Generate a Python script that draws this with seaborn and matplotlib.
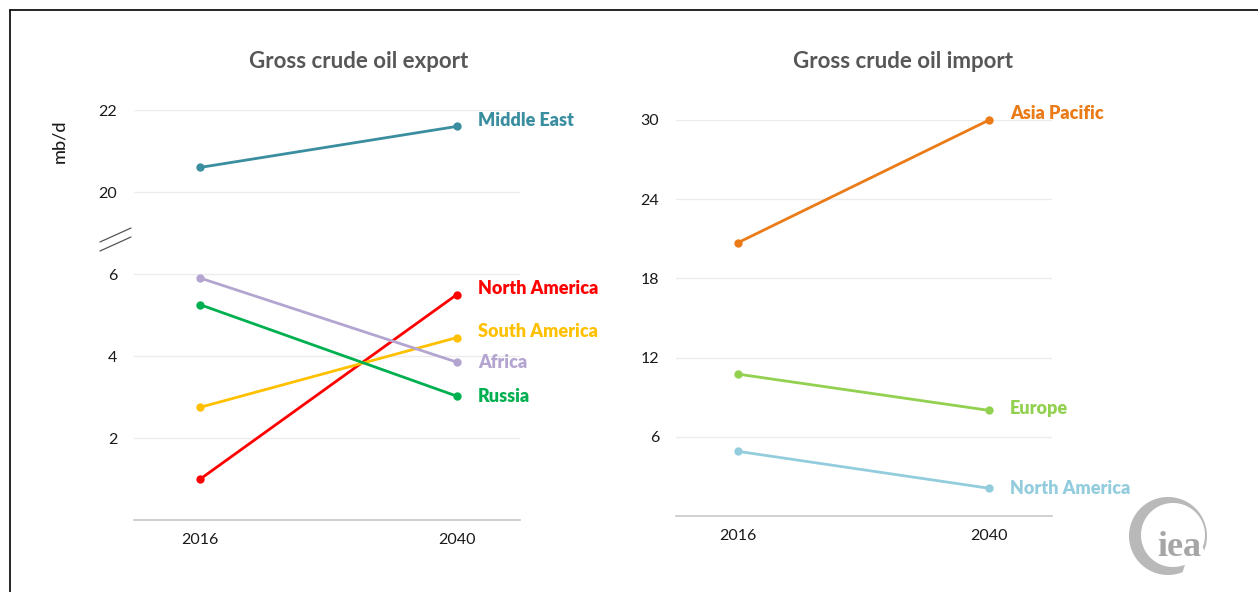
import numpy as np
import pandas as pd
import matplotlib
matplotlib.use("Agg")
import matplotlib.pyplot as plt
from matplotlib.patches import Polygon
from matplotlib.lines import Line2D
import seaborn as sns

# ---- data -----------------------------------------------------------------
years = [2016, 2040]

export_regions = ["Middle East", "North America", "South America", "Africa", "Russia"]
export_2016 = [20.6, 1.0, 2.75, 5.9, 5.25]
export_2040 = [21.6, 5.5, 4.45, 3.85, 3.02]

import_regions = ["Asia Pacific", "Europe", "North America"]
import_2016 = [20.7, 10.75, 4.9]
import_2040 = [30.0, 8.0, 2.1]

export_ticks = [2, 4, 6, 20, 22]
import_ticks = [6, 12, 18, 24, 30]

titles = ["Gross crude oil export", "Gross crude oil import"]
unit_label = "mb/d"
logo_text = "iea"

# ---- styles ---------------------------------------------------------------
export_colors = {"Middle East": "#3a8e9f", "North America": "#ff0000",
                 "South America": "#ffc000", "Africa": "#b4a5d0",
                 "Russia": "#00b050"}
import_colors = {"Asia Pacific": "#ea7b16", "Europe": "#92d050",
                 "North America": "#93cddd"}
export_label_dy = {"Middle East": 6, "North America": 6, "South America": 6,
                   "Africa": 0, "Russia": 0}
import_label_dy = {"Asia Pacific": 6, "Europe": 2, "North America": 0}

sns.set_style("white")
plt.rcParams["font.family"] = ["Lato", "DejaVu Sans"]

W, H = 1258, 592
fig = plt.figure(figsize=(W / 100, H / 100), dpi=100)


def frac(x0, y_top, x1, y_bot):
    return [x0 / W, 1 - y_bot / H, (x1 - x0) / W, (y_bot - y_top) / H]


ax1 = fig.add_axes(frac(134, 110, 520, 520))
ax2 = fig.add_axes(frac(676, 120, 1052, 516))


# broken value axis: 6..20 squeezed into two units
def fwd(v):
    v = np.asarray(v, dtype=float)
    return np.where(v <= 6, v, np.where(v >= 20, v - 12, 6 + (v - 6) * 2 / 14))


def inv(u):
    u = np.asarray(u, dtype=float)
    return np.where(u <= 6, u, np.where(u >= 8, u + 12, 6 + (u - 6) * 7))


def long_form(regions, v0, v1):
    rows = []
    for r, a, b in zip(regions, v0, v1):
        rows.append({"region": r, "year": years[0], "value": a})
        rows.append({"region": r, "year": years[1], "value": b})
    return pd.DataFrame(rows)


df_exp = long_form(export_regions, export_2016, export_2040)
df_imp = long_form(import_regions, import_2016, import_2040)

ax1.set_yscale("function", functions=(fwd, inv))

for ax, df, pal, dys in [(ax1, df_exp, export_colors, export_label_dy),
                         (ax2, df_imp, import_colors, import_label_dy)]:
    sns.lineplot(data=df, x="year", y="value", hue="region", palette=pal,
                 marker="o", markersize=6, markeredgewidth=0, linewidth=2,
                 legend=False, ax=ax, zorder=3)
    for ln in ax.lines:
        ln.set_clip_on(False)
    last = df[df["year"] == years[1]]
    for _, row in last.iterrows():
        ax.annotate(row["region"], (row["year"], row["value"]),
                    xytext=(21, dys[row["region"]]), textcoords="offset pixels",
                    ha="left", va="center", fontsize=13, fontweight="heavy",
                    color=pal[row["region"]], annotation_clip=False)
    ax.set_xticks(years)
    ax.set_xticklabels([str(y) for y in years])
    ax.set_xlabel("")
    ax.set_ylabel("")
    for s in ["left", "right", "top"]:
        ax.spines[s].set_visible(False)
    ax.spines["bottom"].set_color("#c8c8c8")
    ax.spines["bottom"].set_linewidth(1.2)
    ax.yaxis.grid(True, color="#ececec", linewidth=1)
    ax.xaxis.grid(False)
    ax.tick_params(axis="both", length=0, labelsize=11.5, colors="#1a1a1a")
    ax.tick_params(axis="y", pad=12)
    ax.tick_params(axis="x", pad=9)
    ax.set_axisbelow(True)

ax1.set_xlim(2009.8, 2045.9)
ax1.set_ylim(0, 22)
ax1.set_yticks(export_ticks)
ax1.set_yticklabels([str(t) for t in export_ticks])
ax1.yaxis.set_minor_locator(matplotlib.ticker.NullLocator())

ax2.set_xlim(2010.1, 2046.0)
ax2.set_ylim(0, 30)
ax2.set_yticks(import_ticks)
ax2.set_yticklabels([str(t) for t in import_ticks])

# panel titles
for txt, xc in zip(titles, (359, 903)):
    fig.text(xc / W, 1 - 61 / H, txt, ha="center", va="center", fontsize=16,
             fontweight="bold", color="#575757")

fig.text(59 / W, 1 - 141 / H, unit_label, rotation=90, ha="center", va="center",
         fontsize=13, fontweight="medium", color="#1a1a1a")

# axis break marks
for dy in (0, 9):
    fig.add_artist(Line2D([100 / W, 131 / W],
                          [1 - (242 + dy) / H, 1 - (228 + dy) / H],
                          color="#555555", linewidth=0.9))

# outer frame (left and top edges)
fig.add_artist(Line2D([10 / W, 10 / W], [0, 1 - 10 / H], color="black", linewidth=1.2))
fig.add_artist(Line2D([10 / W, 1], [1 - 10 / H, 1 - 10 / H], color="black", linewidth=1.2))

# logo: crescent ring with the letters inside
lax = fig.add_axes(frac(1124, 492, 1214, 582))
lax.set_xlim(-45, 45)
lax.set_ylim(-45, 45)
lax.set_aspect("equal")
lax.axis("off")
th_out = np.radians(np.linspace(-22, 292, 200))
th_in = th_out[::-1]
outer = np.column_stack([-1 + 39 * np.cos(th_out), 1 + 39 * np.sin(th_out)])
inner = np.column_stack([4 + 32 * np.cos(th_in), 2 + 32 * np.sin(th_in)])
lax.add_patch(Polygon(np.vstack([outer, inner]), closed=True,
                      facecolor="#b9b9b9", edgecolor="none"))
lax.text(10, -11, logo_text, ha="center", va="center", fontsize=26,
         fontweight="bold", color="#a6a6a6", family="Liberation Serif")

fig.savefig("out.png", dpi=100, facecolor="white")
